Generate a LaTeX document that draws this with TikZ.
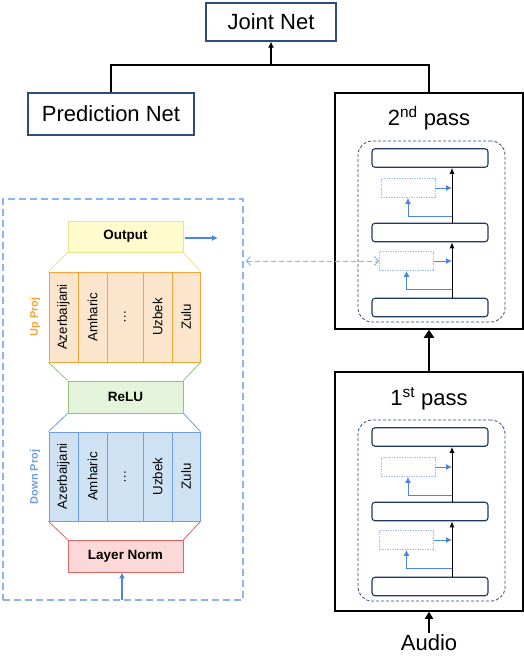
\documentclass[tikz,border=0pt]{standalone}
\usepackage{fontspec}
\usepackage{graphicx}
\setmainfont{Liberation Sans}
\usetikzlibrary{arrows.meta}
\definecolor{navy}{HTML}{2F4B7C}
\definecolor{innerc}{HTML}{1F3864}
\definecolor{gblue}{HTML}{4A86E8}
\definecolor{lblue}{HTML}{8AB4F8}
\definecolor{adbl}{HTML}{A4C2F4}
\definecolor{outfill}{HTML}{FFFBCC}
\definecolor{outdraw}{HTML}{F2E18C}
\definecolor{upfill}{HTML}{FCE5CD}
\definecolor{updraw}{HTML}{F6A43A}
\definecolor{relufill}{HTML}{E3F4DA}
\definecolor{reludraw}{HTML}{93C47D}
\definecolor{dnfill}{HTML}{CFE2F3}
\definecolor{dndraw}{HTML}{6D9EEB}
\definecolor{lnfill}{HTML}{FDD8D8}
\definecolor{lndraw}{HTML}{E06666}
\newcommand\drawpassinner[2]{%
\begin{scope}[shift={(0,#2)}]
  \node[container] (#1cont) at (431.5,138.5) {};
  \node[layerbox] (#1top) at (430,65) {};
  \node[layerbox] (#1mid) at (430,139.5) {};
  \node[layerbox] (#1bot) at (430,214.5) {};
  \node[adbox] (#1adU) at (408,95) {};
  \node[adbox] (#1adL) at (406.5,168) {};
  \coordinate (#1bU) at (452,123);
  \coordinate (#1bL) at (452,196);
  \draw[blk] (#1mid.north -| #1bU) -- (#1top.south -| #1bU);
  \draw[blk] (#1bot.north -| #1bU) -- (#1mid.south -| #1bU);
  \draw[barrow] (#1bU) -| (#1adU.south);
  \draw[barrow] (#1bL) -| (#1adL.south);
  \draw[barrow] (#1adU.east) -- (#1adU.east -| #1bU);
  \draw[barrow] (#1adL.east) -- (#1adL.east -| #1bU);
\end{scope}}
\begin{document}
\begin{tikzpicture}[x=1pt,y=-1pt,
  netbox/.style={draw=navy, line width=1.3pt, inner sep=0pt, font=\fontsize{22}{26}\selectfont},
  passbox/.style={draw=black, line width=1.5pt, inner sep=0pt, minimum width=188pt},
  container/.style={draw=navy, dashed, dash pattern=on 3pt off 2pt, line width=0.8pt, rounded corners=14pt, minimum width=147pt, minimum height=181pt, inner sep=0pt},
  layerbox/.style={draw=innerc, line width=1.1pt, rounded corners=3pt, minimum width=116pt, minimum height=18.5pt, inner sep=0pt},
  adbox/.style={draw=adbl, dash pattern=on 1.5pt off 1pt, line width=0.8pt, minimum width=54pt, minimum height=19pt, inner sep=0pt},
  blk/.style={draw=black, line width=1pt, -{Latex[length=6pt,width=5pt]}},
  barrow/.style={draw=gblue, line width=1pt, -{Latex[length=6pt,width=6pt]}},
  thickarrow/.style={draw=black, line width=2pt, -{Triangle[length=8pt,width=10pt]}},
  dbox/.style={draw=lblue, line width=1.5pt, dash pattern=on 7pt off 4pt, inner sep=0pt, minimum width=240pt, minimum height=401pt},
  solid box/.style={line width=0.9pt, inner sep=0pt, minimum width=115pt, font=\fontsize{13.5}{16}\selectfont\bfseries},
  colup/.style={draw=updraw, fill=upfill, line width=0.9pt, minimum height=90pt, inner sep=0pt, font=\fontsize{13.3}{15}\selectfont},
  coldn/.style={draw=dndraw, fill=dnfill, line width=0.9pt, minimum height=89pt, inner sep=0pt, font=\fontsize{13.3}{15}\selectfont},
  sidelabel/.style={rotate=90, font=\fontsize{11}{13}\selectfont\bfseries, inner sep=0pt},
  titletext/.style={font=\fontsize{22}{26}\selectfont, inner sep=0pt}
]
\fill[white] (0,0) rectangle (524,667);
\useasboundingbox (0,0) rectangle (524,667);

% top part
\node[netbox, minimum width=130pt, minimum height=38pt] (joint) at (271,22) {Joint Net};
\node[netbox, minimum width=166pt, minimum height=42pt] (pred) at (111,114) {Prediction Net};
\node[passbox, minimum height=236pt] (pass2) at (429,211) {};
\node[passbox, minimum height=239pt] (pass1) at (429,491.5) {};
\node[titletext] (t2) at (429,118) {2\textsuperscript{nd} pass};
\node[titletext] (t1) at (429,399) {1\textsuperscript{st} pass};
\coordinate (junc) at (271,65);
\draw[line width=1.1pt] (pred.north) |- (junc) -| (pass2.north);
\draw[line width=1.1pt, -{Latex[length=6pt,width=6pt]}] (junc) -- (joint.south);

\drawpassinner{p2}{93}
\drawpassinner{p1}{372}

\draw[thickarrow] (pass1.north) -- (pass2.south);
\node[font=\fontsize{22}{26}\selectfont, inner sep=2pt] (audio) at (429,643) {Audio};
\draw[line width=1.8pt, -{Triangle[length=7pt,width=8pt]}] (audio.north) -- (pass1.south);

% left adapter detail
\node[dbox] (adapter) at (123,399.5) {};
\node[solid box, draw=outdraw, fill=outfill, minimum height=31pt] (out) at (125.5,236.5) {Output};
\node[colup, minimum width=29pt] (u1) at (63.5,317) {\rotatebox{90}{Azerbaijani}};
\node[colup, minimum width=29pt] (u2) at (92.5,317) {\rotatebox{90}{Amharic}};
\node[colup, minimum width=36pt] (u3) at (125,317) {\rotatebox{90}{…}};
\node[colup, minimum width=29pt] (u4) at (157.5,317) {\rotatebox{90}{Uzbek}};
\node[colup, minimum width=28pt] (u5) at (186,317) {\rotatebox{90}{Zulu}};
\node[sidelabel, text=updraw] (uplab) at (35,317) {Up Proj};
\node[solid box, draw=reludraw, fill=relufill, minimum height=32pt] (relu) at (125.5,397) {ReLU};
\node[coldn, minimum width=29pt] (d1) at (63.5,476.5) {\rotatebox{90}{Azerbaijani}};
\node[coldn, minimum width=29pt] (d2) at (92.5,476.5) {\rotatebox{90}{Amharic}};
\node[coldn, minimum width=36pt] (d3) at (125,476.5) {\rotatebox{90}{…}};
\node[coldn, minimum width=29pt] (d4) at (157.5,476.5) {\rotatebox{90}{Uzbek}};
\node[coldn, minimum width=28pt] (d5) at (186,476.5) {\rotatebox{90}{Zulu}};
\node[sidelabel, text=dndraw] (dnlab) at (35,477) {Down Proj};
\node[solid box, draw=lndraw, fill=lnfill, minimum height=32pt] (ln) at (125.5,556) {Layer Norm};

\draw[outdraw, line width=0.8pt] (out.south west) -- (u1.north west) (out.south east) -- (u5.north east);
\draw[reludraw, line width=0.8pt] (u1.south west) -- (relu.north west) (u5.south east) -- (relu.north east);
\draw[dndraw, line width=0.8pt] (relu.south west) -- (d1.north west) (relu.south east) -- (d5.north east);
\draw[lndraw, line width=0.8pt] (d1.south west) -- (ln.north west) (d5.south east) -- (ln.north east);

\coordinate (outend) at (218,238);
\draw[barrow, line width=1.2pt] ([xshift=2pt]out.east |- outend) -- (outend);
\coordinate (lnin) at (122,600);
\draw[barrow, line width=1.2pt] (lnin) -- (lnin |- ln.south);

\draw[draw=lblue, line width=1pt, dash pattern=on 5pt off 3pt, {Straight Barb[length=4pt,width=9pt]}-{Straight Barb[length=4pt,width=9pt]}] ([xshift=2pt]adapter.east |- p2adL.west) -- (p2adL.west);
\end{tikzpicture}
\end{document}
